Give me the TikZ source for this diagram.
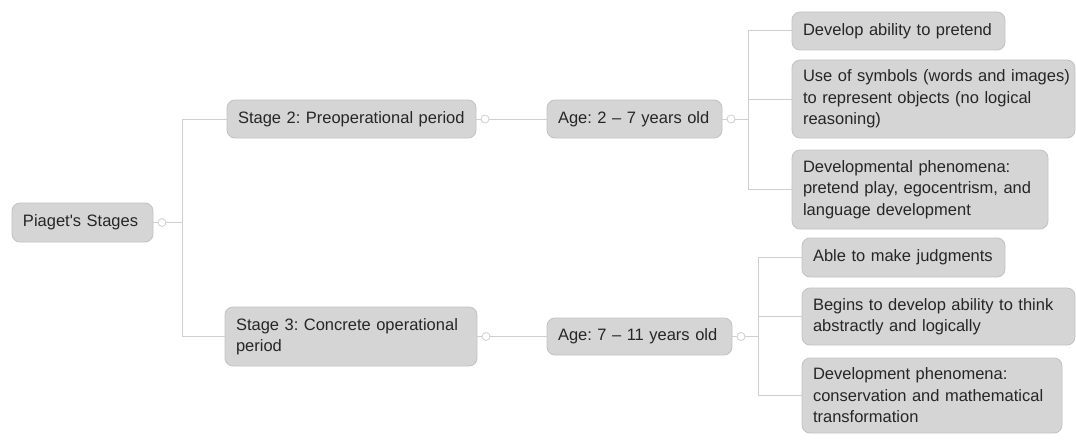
\documentclass[tikz,border=0pt]{standalone}
\usepackage{fontspec}
\setmainfont{Liberation Sans}
\frenchspacing
\definecolor{boxfill}{HTML}{D5D5D5}
\definecolor{boxline}{HTML}{C2C2C2}
\definecolor{conn}{HTML}{CFCFCF}
\definecolor{txt}{HTML}{262626}
\tikzset{
  mbox/.style={draw=boxline, fill=boxfill, rounded corners=8pt, line width=0.8pt,
    text=txt, align=left, inner xsep=11pt, inner ysep=3pt, anchor=center,
    font=\fontsize{16.5}{21.5}\selectfont},
  handle/.style={circle, draw=conn, fill=white, line width=0.8pt, minimum size=8pt, inner sep=0pt},
  conline/.style={draw=conn, line width=1pt}
}
\begin{document}
\begin{tikzpicture}[x=1pt,y=-1pt]
\useasboundingbox (0,0) rectangle (1076,444);
% nodes
\node[mbox, text width=119pt, minimum height=39pt] (P) at (82.5,222.5) {Piaget\textquotesingle s Stages};
\node[mbox, text width=227pt, minimum height=38pt] (S2) at (351.5,119) {Stage 2: Preoperational period};
\node[mbox, text width=153pt, minimum height=38pt] (A1) at (634.5,119) {Age: 2 -- 7 years old};
\node[mbox, text width=191pt, minimum height=38pt] (C1) at (898.5,31) {Develop ability to pretend};
\node[mbox, text width=261pt, minimum height=78pt] (C2) at (933.5,99) {\mbox{Use of symbols (words and images)}\\\mbox{to represent objects (no logical}\\reasoning)};
\node[mbox, text width=234pt, minimum height=79pt] (C3) at (920,189.5) {Developmental phenomena:\\pretend play, egocentrism, and\\language development};
\node[mbox, text width=230pt, minimum height=59pt] (S3) at (351,336.5) {Stage 3: Concrete operational\\period};
\node[mbox, text width=163pt, minimum height=37pt] (A2) at (639.5,336.5) {Age: 7 -- 11 years old};
\node[mbox, text width=181pt, minimum height=39pt] (D1) at (903.5,257.5) {Able to make judgments};
\node[mbox, text width=251pt, minimum height=57pt] (D2) at (938.5,316.5) {\mbox{Begins to develop ability to think}\\abstractly and logically};
\node[mbox, text width=238pt, minimum height=75pt] (D3) at (932,395.5) {Development phenomena:\\\mbox{conservation and mathematical}\\transformation};
% handles
\node[handle] (hP) at (162,222.5) {};
\node[handle] (hS2) at (485,119) {};
\node[handle] (hA1) at (731,119) {};
\node[handle] (hS3) at (486,336.5) {};
\node[handle] (hA2) at (741,336.5) {};
\coordinate (t1) at (182,222.5);
\coordinate (t2) at (748,119);
\coordinate (t3) at (758,336.5);
% connectors
\draw[conline] (P.east) -- (hP.west);
\draw[conline] (hP.east) -- (t1);
\draw[conline] (S2.west) -- (S2.west -| t1) -- (S3.west -| t1) -- (S3.west);
\draw[conline] (S2.east) -- (hS2.west);
\draw[conline] (hS2.east) -- (A1.west);
\draw[conline] (A1.east) -- (hA1.west);
\draw[conline] (hA1.east) -- (t2);
\draw[conline] (C1.west) -- (C1.west -| t2) -- (C3.west -| t2) -- (C3.west);
\draw[conline] (C2.west) -- (C2.west -| t2);
\draw[conline] (S3.east) -- (hS3.west);
\draw[conline] (hS3.east) -- (A2.west);
\draw[conline] (A2.east) -- (hA2.west);
\draw[conline] (hA2.east) -- (t3);
\draw[conline] (D1.west) -- (D1.west -| t3) -- (D3.west -| t3) -- (D3.west);
\draw[conline] (D2.west) -- (D2.west -| t3);
\end{tikzpicture}
\end{document}
